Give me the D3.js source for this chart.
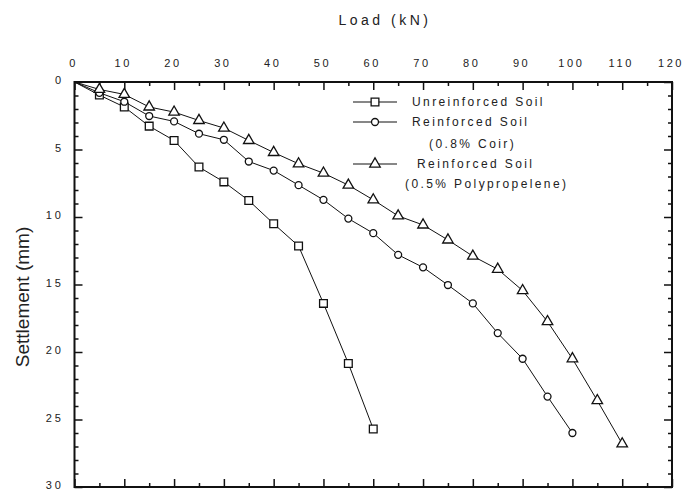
<!DOCTYPE html>
<html>
<head>
<meta charset="utf-8">
<script src="https://d3js.org/d3.v7.min.js"></script>
<style>
  body { margin: 0; background: #fff; }
  text { font-family: Arial, "Liberation Sans", sans-serif; fill: #222; }
</style>
</head>
<body>
<div id="chart"></div>
<script>
// load steps (kN) and settlement readings (mm)
const loadUnreinforced = [0, 5, 10, 15, 20, 25, 30, 35, 40, 45, 50, 55, 60];
const settleUnreinforced = [0, 0.97, 1.85, 3.27, 4.33, 6.3, 7.4, 8.78, 10.5, 12.15, 16.4, 20.85, 25.7];

const loadCoir = [0, 5, 10, 15, 20, 25, 30, 35, 40, 45, 50, 55, 60, 65, 70, 75, 80, 85, 90, 95, 100];
const settleCoir = [0, 0.8, 1.46, 2.52, 2.92, 3.83, 4.28, 5.89, 6.56, 7.64, 8.73, 10.12, 11.2, 12.8, 13.73, 15.04, 16.4, 18.6, 20.5, 23.3, 26.0];

const loadPoly = [0, 5, 10, 15, 20, 25, 30, 35, 40, 45, 50, 55, 60, 65, 70, 75, 80, 85, 90, 95, 100, 105, 110];
const settlePoly = [0, 0.55, 0.92, 1.85, 2.23, 2.85, 3.41, 4.33, 5.22, 6.06, 6.75, 7.64, 8.73, 9.92, 10.59, 11.7, 12.9, 13.87, 15.45, 17.75, 20.5, 23.6, 26.8];

const xTicks = [0, 10, 20, 30, 40, 50, 60, 70, 80, 90, 100, 110, 120];
const yTicks = [0, 5, 10, 15, 20, 25, 30];

const width = 684, height = 494;
const margin = {top: 82, right: 12, bottom: 7, left: 74.5};

const svg = d3.select('#chart').append('svg')
  .attr('width', width)
  .attr('height', height);

const x = d3.scaleLinear().domain([0, 120]).range([margin.left, width - margin.right]);
const y = d3.scaleLinear().domain([0, 30]).range([margin.top, height - margin.bottom]);

// ticks go inwards on every side
const major = 8, minor = 4;
const xMinor = d3.range(5, 120, 10);
const yMinor = d3.range(0, 30, 1).filter(d => d % 5 !== 0);

const g = svg.append('g');

g.append('g').attr('transform', `translate(0,${y(0)})`)
  .call(d3.axisBottom(x).tickValues(xTicks).tickSize(major).tickFormat(''))
  .call(a => a.select('.domain').remove());
g.append('g').attr('transform', `translate(0,${y(0)})`)
  .call(d3.axisBottom(x).tickValues(xMinor).tickSize(minor).tickFormat(''))
  .call(a => a.select('.domain').remove());
g.append('g').attr('transform', `translate(0,${y(30)})`)
  .call(d3.axisTop(x).tickValues(xTicks).tickSize(major).tickFormat(''))
  .call(a => a.select('.domain').remove());
g.append('g').attr('transform', `translate(0,${y(30)})`)
  .call(d3.axisTop(x).tickValues(xMinor).tickSize(minor).tickFormat(''))
  .call(a => a.select('.domain').remove());
g.append('g').attr('transform', `translate(${x(0)},0)`)
  .call(d3.axisRight(y).tickValues(yTicks).tickSize(major).tickFormat(''))
  .call(a => a.select('.domain').remove());
g.append('g').attr('transform', `translate(${x(0)},0)`)
  .call(d3.axisRight(y).tickValues(yMinor).tickSize(minor).tickFormat(''))
  .call(a => a.select('.domain').remove());
g.append('g').attr('transform', `translate(${x(120)},0)`)
  .call(d3.axisLeft(y).tickValues(yTicks).tickSize(major).tickFormat(''))
  .call(a => a.select('.domain').remove());
g.append('g').attr('transform', `translate(${x(120)},0)`)
  .call(d3.axisLeft(y).tickValues(yMinor).tickSize(minor).tickFormat(''))
  .call(a => a.select('.domain').remove());
g.selectAll('.tick line').attr('stroke', '#111').attr('stroke-width', 1.5);

// frame
svg.append('rect')
  .attr('x', x(0)).attr('y', y(0))
  .attr('width', x(120) - x(0)).attr('height', y(30) - y(0))
  .attr('fill', 'none').attr('stroke', '#111').attr('stroke-width', 2);

// tick labels
svg.append('g').selectAll('text')
  .data(xTicks).enter().append('text')
  .attr('x', d => x(d) - 1)
  .attr('y', 67)
  .attr('text-anchor', 'middle')
  .style('font-size', '11px')
  .style('letter-spacing', '2.6px')
  .text(d => d);

svg.append('g').selectAll('text')
  .data(yTicks).enter().append('text')
  .attr('x', 64)
  .attr('y', d => y(d) + 2)
  .attr('text-anchor', 'end')
  .style('font-size', '11px')
  .style('letter-spacing', '3px')
  .text(d => d);

// axis titles
svg.append('text')
  .attr('x', 385).attr('y', 25)
  .attr('text-anchor', 'middle')
  .style('font-size', '14px')
  .style('letter-spacing', '3.5px')
  .text('Load (kN)');

svg.append('text')
  .attr('transform', 'translate(29,297) rotate(-90)')
  .attr('text-anchor', 'middle')
  .style('font-size', '19px')
  .text('Settlement (mm)');

// series
const line = d3.line().x(d => x(d[0])).y(d => y(d[1]));

const series = [
  {name: 'unreinforced', pts: d3.zip(loadUnreinforced, settleUnreinforced), shape: d3.symbolSquare, size: 60},
  {name: 'coir', pts: d3.zip(loadCoir, settleCoir), shape: d3.symbolCircle, size: 38},
  {name: 'poly', pts: d3.zip(loadPoly, settlePoly), shape: d3.symbolTriangle, size: 48}
];

series.forEach(s => {
  svg.append('path')
    .attr('d', line(s.pts))
    .attr('fill', 'none')
    .attr('stroke', '#111')
    .attr('stroke-width', 1);
  svg.append('g').selectAll('path')
    .data(s.pts.slice(1)).enter().append('path')
    .attr('transform', d => `translate(${x(d[0])},${y(d[1])})`)
    .attr('d', d3.symbol().type(s.shape).size(s.size))
    .attr('fill', '#fff')
    .attr('stroke', '#111')
    .attr('stroke-width', 1.3);
});

// legend
const legendRows = [
  {shape: d3.symbolSquare, size: 60, y: 102, lines: [{t: 'Unreinforced Soil', x: 412, dy: 0}]},
  {shape: d3.symbolCircle, size: 38, y: 122, lines: [{t: 'Reinforced Soil', x: 412, dy: 0}, {t: '(0.8% Coir)', x: 429, dy: 22}]},
  {shape: d3.symbolTriangle, size: 48, y: 164, lines: [{t: 'Reinforced Soil', x: 417, dy: 0}, {t: '(0.5% Polypropelene)', x: 405, dy: 20}]}
];

legendRows.forEach(r => {
  svg.append('line')
    .attr('x1', 353).attr('x2', 397)
    .attr('y1', r.y).attr('y2', r.y)
    .attr('stroke', '#111').attr('stroke-width', 1.2);
  svg.append('path')
    .attr('transform', `translate(375,${r.y})`)
    .attr('d', d3.symbol().type(r.shape).size(r.size))
    .attr('fill', '#fff').attr('stroke', '#111').attr('stroke-width', 1.3);
  r.lines.forEach(l => {
    svg.append('text')
      .attr('x', l.x).attr('y', r.y + l.dy + 4)
      .style('font-size', '12px')
      .style('letter-spacing', '2.4px')
      .text(l.t);
  });
});
</script>
</body>
</html>
